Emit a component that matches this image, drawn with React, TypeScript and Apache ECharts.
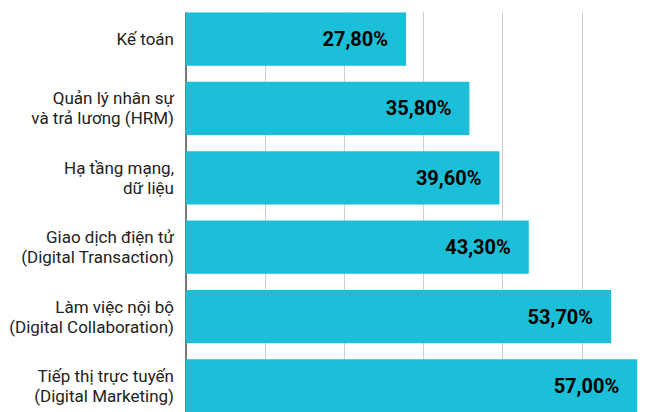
import React, { useEffect, useRef } from "react";
import * as echarts from "echarts";

const categories = [
  "Kế toán",
  "Quản lý nhân sự\nvà trả lương (HRM)",
  "Hạ tầng mạng,\ndữ liệu",
  "Giao dịch điện tử\n(Digital Transaction)",
  "Làm việc nội bộ\n(Digital Collaboration)",
  "Tiếp thị trực tuyến\n(Digital Marketing)",
];
const values = [27.8, 35.8, 39.6, 43.3, 53.7, 57.0];

const BAR_COLOR = "#1bbfd7";

export default function App() {
  const ref = useRef<HTMLDivElement>(null);
  useEffect(() => {
    if (!ref.current) return;
    const chart = echarts.init(ref.current, null, { renderer: "svg" });
    chart.setOption({
      animation: false,
      grid: {
        left: 186,
        top: 4.3,
        width: 475,
        height: 416.4,
        containLabel: false,
        outerBoundsMode: "none",
      },
      xAxis: {
        type: "value",
        min: 0,
        max: 60,
        interval: 10,
        axisLine: { show: false },
        axisTick: { show: false },
        axisLabel: { show: false },
        splitLine: { show: true, lineStyle: { color: "#cfcfcf", width: 1 } },
      },
      yAxis: {
        type: "category",
        inverse: true,
        data: categories,
        axisLine: { show: true, lineStyle: { color: "#555555", width: 1.5 } },
        axisTick: { show: false },
        axisLabel: {
          margin: 12,
          color: "#222222",
          fontFamily: "Roboto, 'Noto Sans', sans-serif",
          fontSize: 17,
          lineHeight: 20,
          align: "right",
        },
      },
      series: [
        {
          type: "bar",
          data: values,
          barWidth: 53.3,
          itemStyle: { color: BAR_COLOR },
          label: {
            show: true,
            position: "insideRight",
            distance: 18,
            color: "#000000",
            fontFamily: "Roboto, 'Noto Sans', sans-serif",
            fontWeight: "bold",
            fontSize: 20,
            formatter: (p: any) => p.value.toFixed(2).replace(".", ",") + "%",
          },
        },
      ],
      graphic: [
        {
          type: "rect",
          z: 100,
          shape: { x: 150, y: 0, width: 501, height: 12.3 },
          style: { fill: "#ffffff" },
        },
      ],
    });
    return () => chart.dispose();
  }, []);
  return <div ref={ref} style={{ width: 651, height: 412, position: "absolute", left: 0, top: 0 }} />;
}
